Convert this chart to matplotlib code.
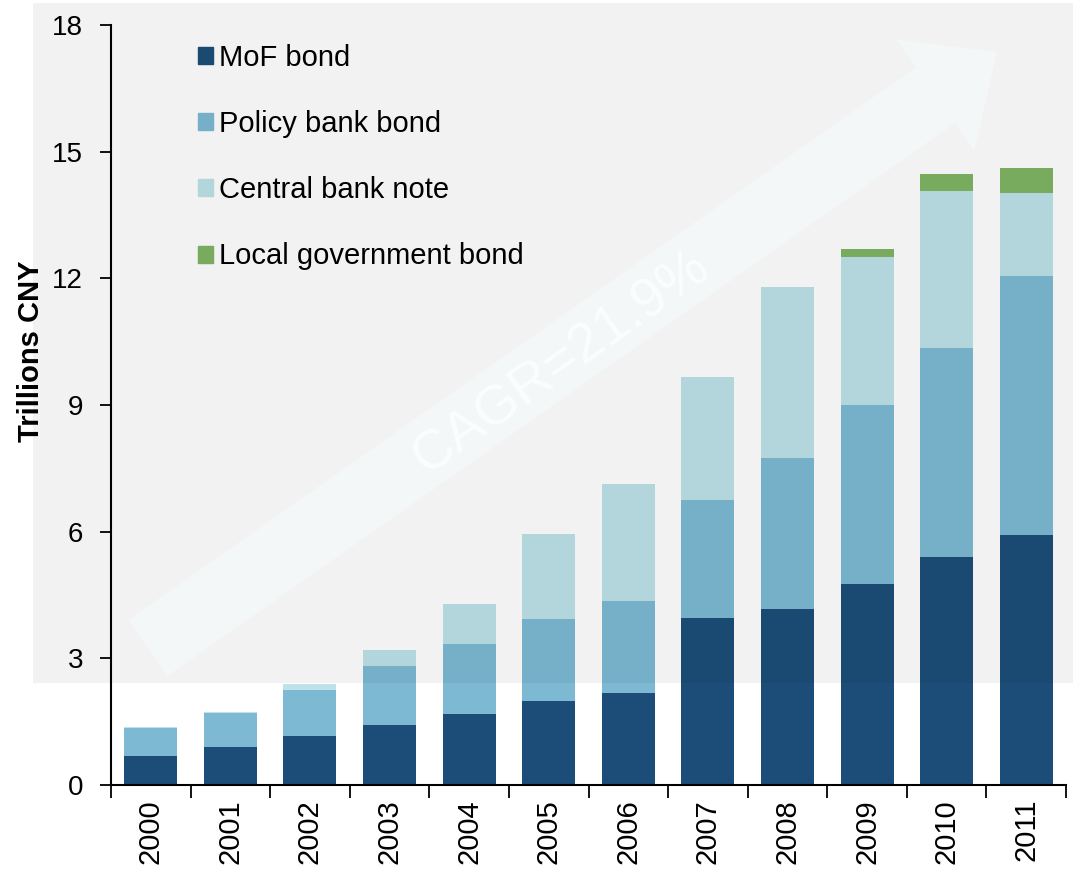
import matplotlib
matplotlib.use("Agg")
import matplotlib.pyplot as plt
import matplotlib.patches as mpatches
import matplotlib.transforms as mtransforms
import numpy as np

plt.rcParams['font.family'] = ['Liberation Sans', 'DejaVu Sans']

years = ['2000', '2001', '2002', '2003', '2004', '2005',
         '2006', '2007', '2008', '2009', '2010', '2011']
mof = [0.69, 0.90, 1.16, 1.42, 1.68, 1.99, 2.18, 3.96, 4.17, 4.76, 5.40, 5.92]
policy = [0.66, 0.80, 1.09, 1.40, 1.66, 1.94, 2.18, 2.79, 3.58, 4.24, 4.95, 6.14]
cbn = [0.03, 0.03, 0.14, 0.38, 0.95, 2.02, 2.77, 2.91, 4.05, 3.50, 3.72, 1.96]
lgb = [0, 0, 0, 0, 0, 0, 0, 0, 0, 0.20, 0.40, 0.59]
labels = ['MoF bond', 'Policy bank bond', 'Central bank note', 'Local government bond']
colors = ['#1c4d78', '#7db9d3', '#bde2e8', '#7fb562']
yticks = [0, 3, 6, 9, 12, 15, 18]

W, H = 1073, 869
fig = plt.figure(figsize=(W / 100, H / 100), dpi=100)
ax = fig.add_axes([111 / W, 1 - 785 / H, 955 / W, 760 / H])
ax.set_facecolor('none')

x = np.arange(len(years))
bottom = np.zeros(len(years))
handles = []
for vals, lab, col in zip([mof, policy, cbn, lgb], labels, colors):
    ax.bar(x, vals, 0.665, bottom=bottom, color=col, zorder=2)
    bottom += np.array(vals)
    handles.append(mpatches.Patch(color=col, label=lab))

ax.set_xlim(-0.5, len(years) - 0.5)
ax.set_ylim(0, 18)
ax.set_yticks(yticks)
ax.set_yticklabels([str(t) for t in yticks], fontsize=20)
ax.set_xticks(np.arange(-0.5, len(years)), labels=[''] * (len(years) + 1))
ax.set_xticks(x, labels=years, minor=True)
ax.tick_params(axis='x', which='major', length=9, width=1.3, direction='out')
ax.tick_params(axis='x', which='minor', length=0, labelsize=21, labelrotation=90, pad=10)
ax.tick_params(axis='y', length=8, width=1.3, direction='out', pad=12)
for s in ['top', 'right']:
    ax.spines[s].set_visible(False)
for s in ['left', 'bottom']:
    ax.spines[s].set_linewidth(1.5)
ax.set_ylabel('Trillions CNY', fontsize=21, fontweight='bold')
ax.yaxis.set_label_coords(-0.069, 0.571)

ax.legend(handles=handles, loc='upper left', bbox_to_anchor=(0.0911, 0.9752),
          frameon=False, fontsize=21, handlelength=0.52, handleheight=0.52,
          handletextpad=0.2, labelspacing=1.31, borderpad=0, borderaxespad=0)

# grey band over the upper part of the slide
px = mtransforms.Affine2D().scale(1 / W, 1 / H) + fig.transFigure
band = mpatches.Rectangle((33, H - 683), W - 33, 683 - 3, transform=px,
                          facecolor='black', alpha=0.05, edgecolor='none', zorder=2.5)
fig.patches.append(band)

# growth arrow
arr = mpatches.FancyArrow(148, H - 648, 849, 596, width=68, head_width=135,
                          head_length=75, length_includes_head=True,
                          transform=px, facecolor='#f5f8fa', edgecolor='none',
                          alpha=0.85, zorder=3)
fig.patches.append(arr)
fig.text(561, H - 363, 'CAGR=21.9%', transform=px, fontsize=40, color='white',
         alpha=0.7, rotation=35.2, rotation_mode='anchor', ha='center',
         va='center', zorder=3.5)

fig.savefig('out.png', dpi=100)
